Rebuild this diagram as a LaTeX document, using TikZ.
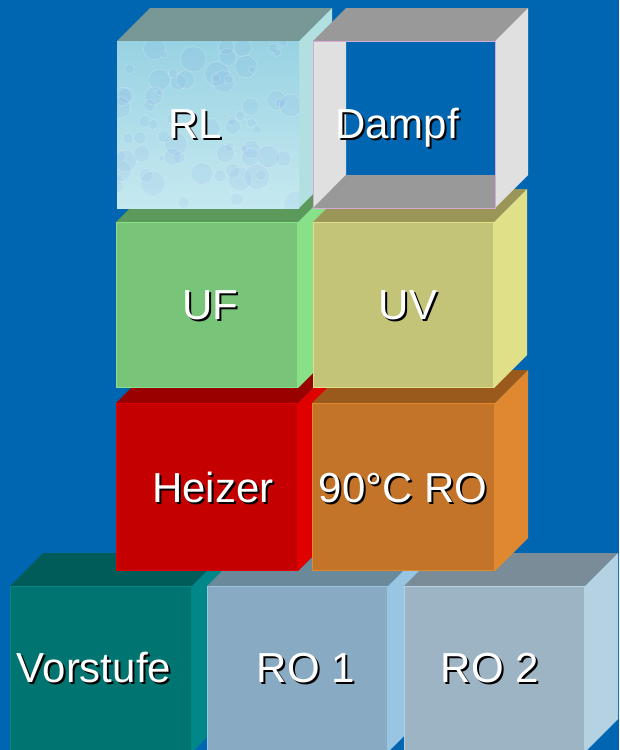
\documentclass[tikz,border=0pt]{standalone}
\usepackage{fontspec}
\setmainfont{Liberation Sans}
\definecolor{bg}{HTML}{0066B2}
\definecolor{rlTop}{HTML}{789896}
\definecolor{rlSide}{HTML}{B2E0E0}
\definecolor{rlA}{HTML}{98D2E2}
\definecolor{rlB}{HTML}{C6E9F0}
\definecolor{dTop}{HTML}{999999}
\definecolor{dSide}{HTML}{E0E0E0}
\definecolor{dLine}{HTML}{D8A8D8}
\definecolor{ufTop}{HTML}{5C9A5C}
\definecolor{ufFront}{HTML}{78C478}
\definecolor{ufSide}{HTML}{88E088}
\definecolor{uvTop}{HTML}{9A9658}
\definecolor{uvFront}{HTML}{C4C478}
\definecolor{uvSide}{HTML}{E0E088}
\definecolor{hTop}{HTML}{990000}
\definecolor{hFront}{HTML}{C40000}
\definecolor{hSide}{HTML}{E00000}
\definecolor{oTop}{HTML}{9A5A1C}
\definecolor{oFront}{HTML}{C47428}
\definecolor{oSide}{HTML}{E08830}
\definecolor{vTop}{HTML}{005C58}
\definecolor{vFront}{HTML}{007470}
\definecolor{vSide}{HTML}{008888}
\definecolor{aTop}{HTML}{6A8A9C}
\definecolor{aFront}{HTML}{88AAC2}
\definecolor{aSide}{HTML}{98C6E2}
\definecolor{bTop}{HTML}{7A8C98}
\definecolor{bFront}{HTML}{9CB4C4}
\definecolor{bSide}{HTML}{B4D2E2}
\tikzset{
  lbl/.style={text=white, font=\fontsize{42}{48}\selectfont, anchor=base, inner sep=0pt},
}
% x1 y1 x2 y2 top front side
\newcommand\cubebox[7]{%
  \fill[#5] (#1,#2) -- (#1+33,#2-33) -- (#3+33,#2-33) -- (#3,#2) -- cycle;
  \fill[#7] (#3,#2) -- (#3+33,#2-33) -- (#3+33,#4-33) -- (#3,#4) -- cycle;
  \fill[#6] (#1,#2) rectangle (#3,#4);
  \draw[#7, line width=0.8pt] (#1+0.5,#2+0.5) rectangle (#3-0.5,#4-0.5);
}
\newcommand\shadowtext[1]{\makebox[0pt][l]{\kern2pt\raisebox{-2pt}{\color{black}#1}}#1}
\newcommand\cubelabel[4]{%
  \node[lbl] (#1) at (#2,#3) {\shadowtext{#4}};
}
\begin{document}
\begin{tikzpicture}[x=1pt,y=-1pt]
\fill[bg] (0,0) rectangle (619,750);
\useasboundingbox (0,0) rectangle (619,750);
% bottom row
\cubebox{10}{586}{192}{752}{vTop}{vFront}{vSide}
\cubebox{207}{586}{388}{752}{aTop}{aFront}{aSide}
\cubebox{404}{586}{585}{752}{bTop}{bFront}{bSide}
% third row
\cubebox{116}{403}{298}{571}{hTop}{hFront}{hSide}
\cubebox{312}{403}{495}{571}{oTop}{oFront}{oSide}
% middle row
\cubebox{116}{222}{298}{388}{ufTop}{ufFront}{ufSide}
\cubebox{313}{222}{494}{388}{uvTop}{uvFront}{uvSide}
% top row: RL
\fill[rlTop] (117,41) -- (150,8) -- (332,8) -- (299,41) -- cycle;
\fill[rlSide] (299,41) -- (332,8) -- (332,175) -- (299,208) -- cycle;
\begin{scope}
  \clip (117,41) rectangle (299,208);
  \shade[top color=rlA, bottom color=rlB] (117,41) rectangle (299,208);
  \pgfmathsetseed{11}
  \foreach \i in {1,...,70} {
    \pgfmathsetmacro\bx{117+rnd*182}
    \pgfmathsetmacro\by{41+rnd*167}
    \pgfmathsetmacro\br{3+rnd*10}
    \fill[rlA!70!blue, opacity=0.08] (\bx,\by) circle[radius=\br pt];
    \draw[white, opacity=0.25, line width=0.6pt] (\bx,\by) circle[radius=\br pt];
  }
\end{scope}
% top row: Dampf (open box)
\fill[dTop] (313,41) -- (346,8) -- (528,8) -- (495,41) -- cycle;
\fill[dSide] (495,41) -- (528,8) -- (528,175) -- (495,208) -- cycle;
\fill[dSide] (313,41) -- (346,41) -- (346,175) -- (313,208) -- cycle;
\fill[dTop] (313,208) -- (346,175) -- (495,175) -- (495,208) -- cycle;
\draw[dLine, line width=1pt] (313,41) rectangle (495,208);
% labels
\cubelabel{rl}{195}{138}{RL}
\cubelabel{dampf}{397}{138}{Dampf}
\cubelabel{uf}{210}{319}{UF}
\cubelabel{uv}{408}{319}{UV}
\cubelabel{heizer}{213}{502}{Heizer}
\cubelabel{ro90}{403}{502}{90°C RO}
\cubelabel{vorstufe}{94}{682}{Vorstufe}
\cubelabel{roa}{306}{682}{RO 1}
\cubelabel{rob}{490}{682}{RO 2}
\end{tikzpicture}
\end{document}
